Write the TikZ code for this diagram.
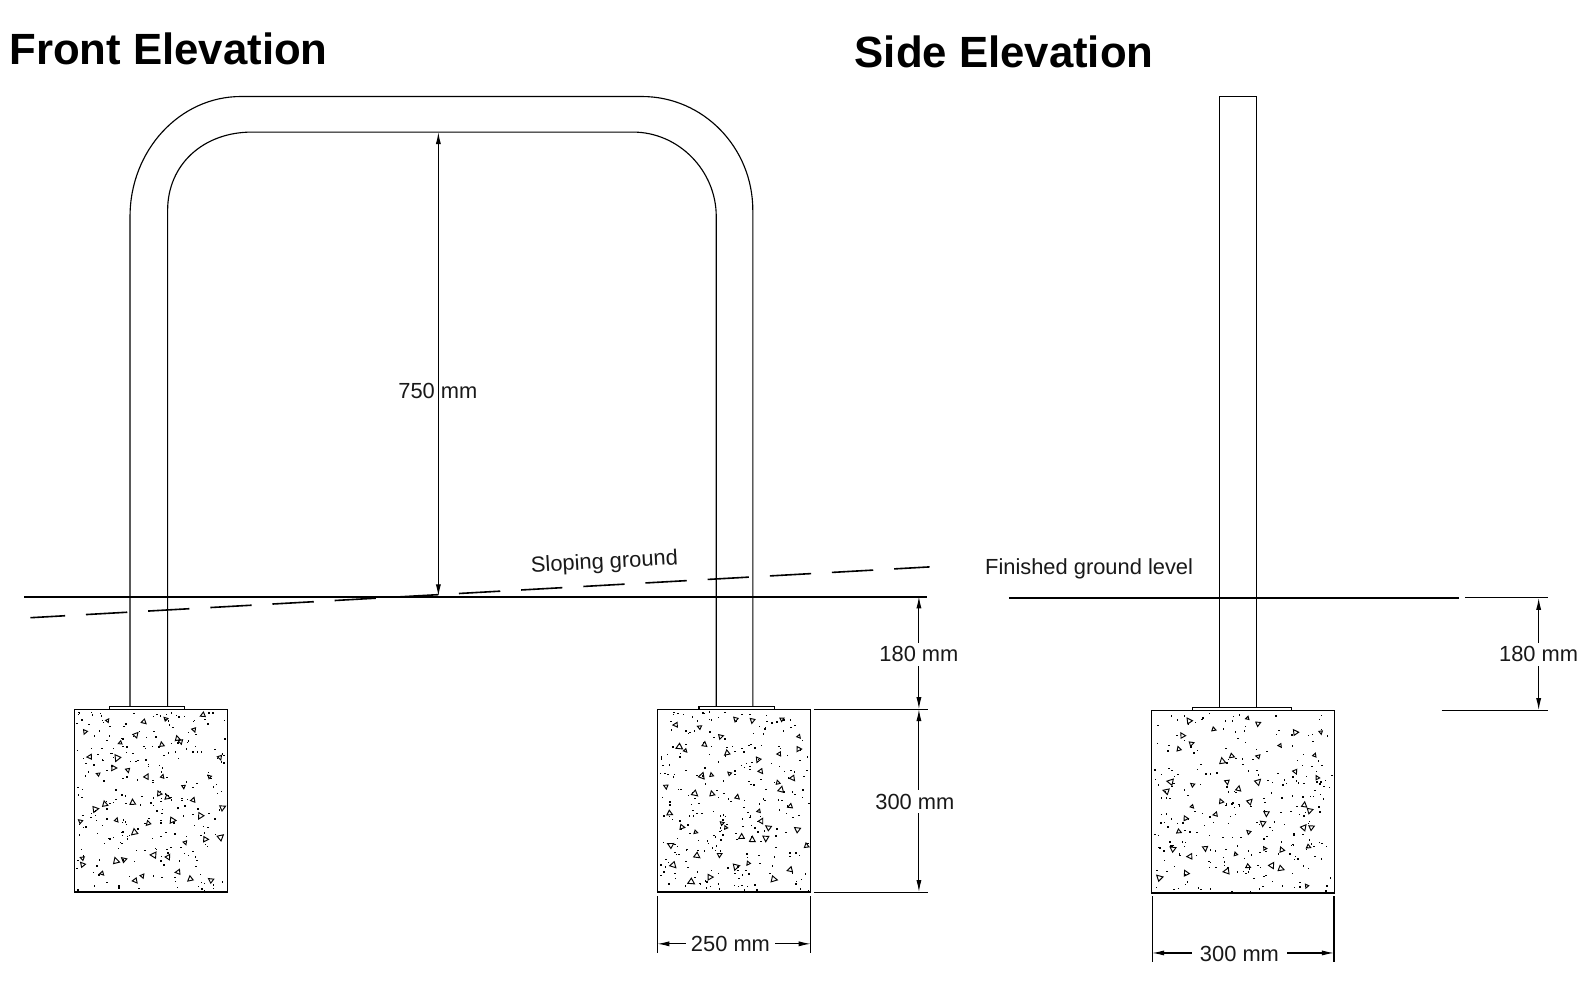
\documentclass[tikz,border=0pt]{standalone}
\usepackage{fontspec}
\setmainfont{Liberation Sans}
\usetikzlibrary{arrows.meta}
\tikzset{
  px/.style={x=0.762pt,y=-0.762pt},
  ln/.style={draw=black,line width=0.85pt},
  thick ln/.style={draw=black,line width=1.4pt},
  dim/.style={draw=black,line width=0.8pt,{Latex[length=9pt,width=3.8pt]}-{Latex[length=9pt,width=3.8pt]}},
  lab/.style={font=\fontsize{16.4}{18}\selectfont,text=black!90,inner sep=1pt},
  gaplab/.style={lab,fill=white,inner xsep=2pt,inner ysep=3pt},
  title/.style={font=\fontsize{32.8}{36}\selectfont\bfseries,inner sep=0pt,anchor=west},
  slope/.style={draw=black,line width=1.2pt,dash pattern=on 31pt off 15.7pt,dash phase=5pt},
  blockbox/.style={draw=black,line width=0.85pt,inner sep=0pt}
}
\newcommand{\concrete}[5]{%
  \pgfmathsetseed{#5}%
  \foreach \k in {1,...,260}{%
    \pgfmathsetmacro\sx{#1+2+rnd*(#3-#1-4)}%
    \pgfmathsetmacro\sy{#2+2+rnd*(#4-#2-4)}%
    \fill[black] (\sx,\sy) rectangle ++(1.4,1.4);
  }%
  \foreach \i in {0,...,6}{%
    \foreach \j in {0,...,6}{%
      \pgfmathsetmacro\sx{#1+5+(\i+rnd)*(#3-#1-10)/7}%
      \pgfmathsetmacro\sy{#2+5+(\j+rnd)*(#4-#2-10)/7}%
      \pgfmathsetmacro\sa{rnd*360}%
      \pgfmathsetmacro\sr{2.2+rnd*2.0}%
      \draw[black,line width=0.7pt,line join=miter] (\sx,\sy) ++(\sa:\sr) -- ++(\sa+130:1.6*\sr) -- ++(\sa+250:1.5*\sr) -- cycle;
    }%
  }%
}
\begin{document}
\begin{tikzpicture}[px]
\useasboundingbox[fill=white] (0,0) rectangle (1568,983.3);

\node[title] (tf) at (9,48.5) {Front Elevation};
\node[title] (ts) at (841,51) {Side Elevation};

% concrete blocks
\node[blockbox,minimum width=151*0.762pt,minimum height=180*0.762pt] (b1) at (148.5,788) {};
\node[blockbox,minimum width=151*0.762pt,minimum height=180*0.762pt] (b2) at (722.5,788) {};
\node[blockbox,minimum width=180*0.762pt,minimum height=180*0.762pt] (b3) at (1223.5,789) {};
\concrete{73}{698}{224}{878}{11}
\concrete{647}{698}{798}{878}{27}
\concrete{1134}{699}{1313}{879}{43}

% base plates
\draw[ln] (108,698) -- (108,695) -- (182,695) -- (182,698);
\draw[ln] (688,698) -- (688,695) -- (762,695) -- (762,698);
\draw[ln] (1174,699) -- (1174,696) -- (1271,696) -- (1271,699);

% hoop
\draw[ln] (128,695) -- (128,213) .. controls (128,148) and (177,95) .. (237,95) -- (632,95) .. controls (692,95) and (741,145) .. (741,207) -- (741,695);
\draw[ln] (165,695) -- (165,207) .. controls (165,162) and (200,130) .. (248,130) -- (623,130) .. controls (668,130) and (705,168) .. (705,213) -- (705,695);

% side post
\draw[ln] (1200,696) -- (1200,95) -- (1237,95) -- (1237,696);

% ground lines
\coordinate (g1) at (24,587.5);
\coordinate (g2) at (912,587.5);
\draw[thick ln] (g1) -- (g2);
\coordinate (s1) at (30,608);
\coordinate (s2) at (915,558);
\draw[slope] (s1) -- (s2);
\coordinate (g3) at (993,588.5);
\coordinate (g4) at (1436,588.5);
\draw[thick ln] (g3) -- (g4);

% 750
\coordinate (d1a) at (431.5,130);
\coordinate (d1b) at (431.5,587);
\draw[dim] (d1a) -- (d1b);
\node[lab] (l750) at (431,384.5) {750 mm};

% front extension lines
\coordinate (e1a) at (801,698);
\coordinate (e1b) at (913,698);
\coordinate (e2a) at (801,878.5);
\coordinate (e2b) at (913,878.5);
\draw[ln] (e1a) -- (e1b);
\draw[ln] (e2a) -- (e2b);

% 180 front
\coordinate (d2a) at (904.5,587);
\coordinate (d2b) at (904.5,698);
\draw[dim] (d2a) -- (d2b);
\node[gaplab] (l180) at (904.5,644) {180 mm};

% 300 front
\coordinate (d3a) at (904.5,698);
\coordinate (d3b) at (904.5,878);
\draw[dim] (d3a) -- (d3b);
\node[gaplab] (l300) at (900.5,789) {300 mm};

% 250
\coordinate (w1t) at (647,882);
\coordinate (w1b) at (647,938);
\coordinate (w2t) at (798,882);
\coordinate (w2b) at (798,938);
\draw[ln] (w1t) -- (w1b);
\draw[ln] (w2t) -- (w2b);
\coordinate (w1) at (647,929);
\coordinate (w2) at (798,929);
\draw[dim] (w1) -- (w2);
\node[gaplab,inner ysep=1pt,inner xsep=4pt] (l250) at (719,929.5) {250 mm};

% 300 side width
\coordinate (v1t) at (1134,882);
\coordinate (v1b) at (1134,947);
\coordinate (v2t) at (1313,882);
\coordinate (v2b) at (1313,947);
\draw[ln] (v1t) -- (v1b);
\draw[ln] (v2t) -- (v2b);
\coordinate (v1) at (1134,938);
\coordinate (v2) at (1313,938);
\draw[dim] (v1) -- (v2);
\node[gaplab,inner ysep=1pt,inner xsep=6pt] (l300s) at (1220,939) {300 mm};

% 180 side
\coordinate (x1a) at (1442,588.5);
\coordinate (x1b) at (1524,588.5);
\coordinate (x2a) at (1419,699);
\coordinate (x2b) at (1524,699);
\draw[ln] (x1a) -- (x1b);
\draw[ln] (x2a) -- (x2b);
\coordinate (d4a) at (1514.5,588.5);
\coordinate (d4b) at (1514.5,699);
\draw[dim] (d4a) -- (d4b);
\node[gaplab] (l180s) at (1514.5,644) {180 mm};

% labels
\node[lab,rotate=3.2] (lsl) at (595,554) {Sloping ground};
\node[lab] (lfg) at (1072,559.5) {Finished ground level};
\end{tikzpicture}
\end{document}
